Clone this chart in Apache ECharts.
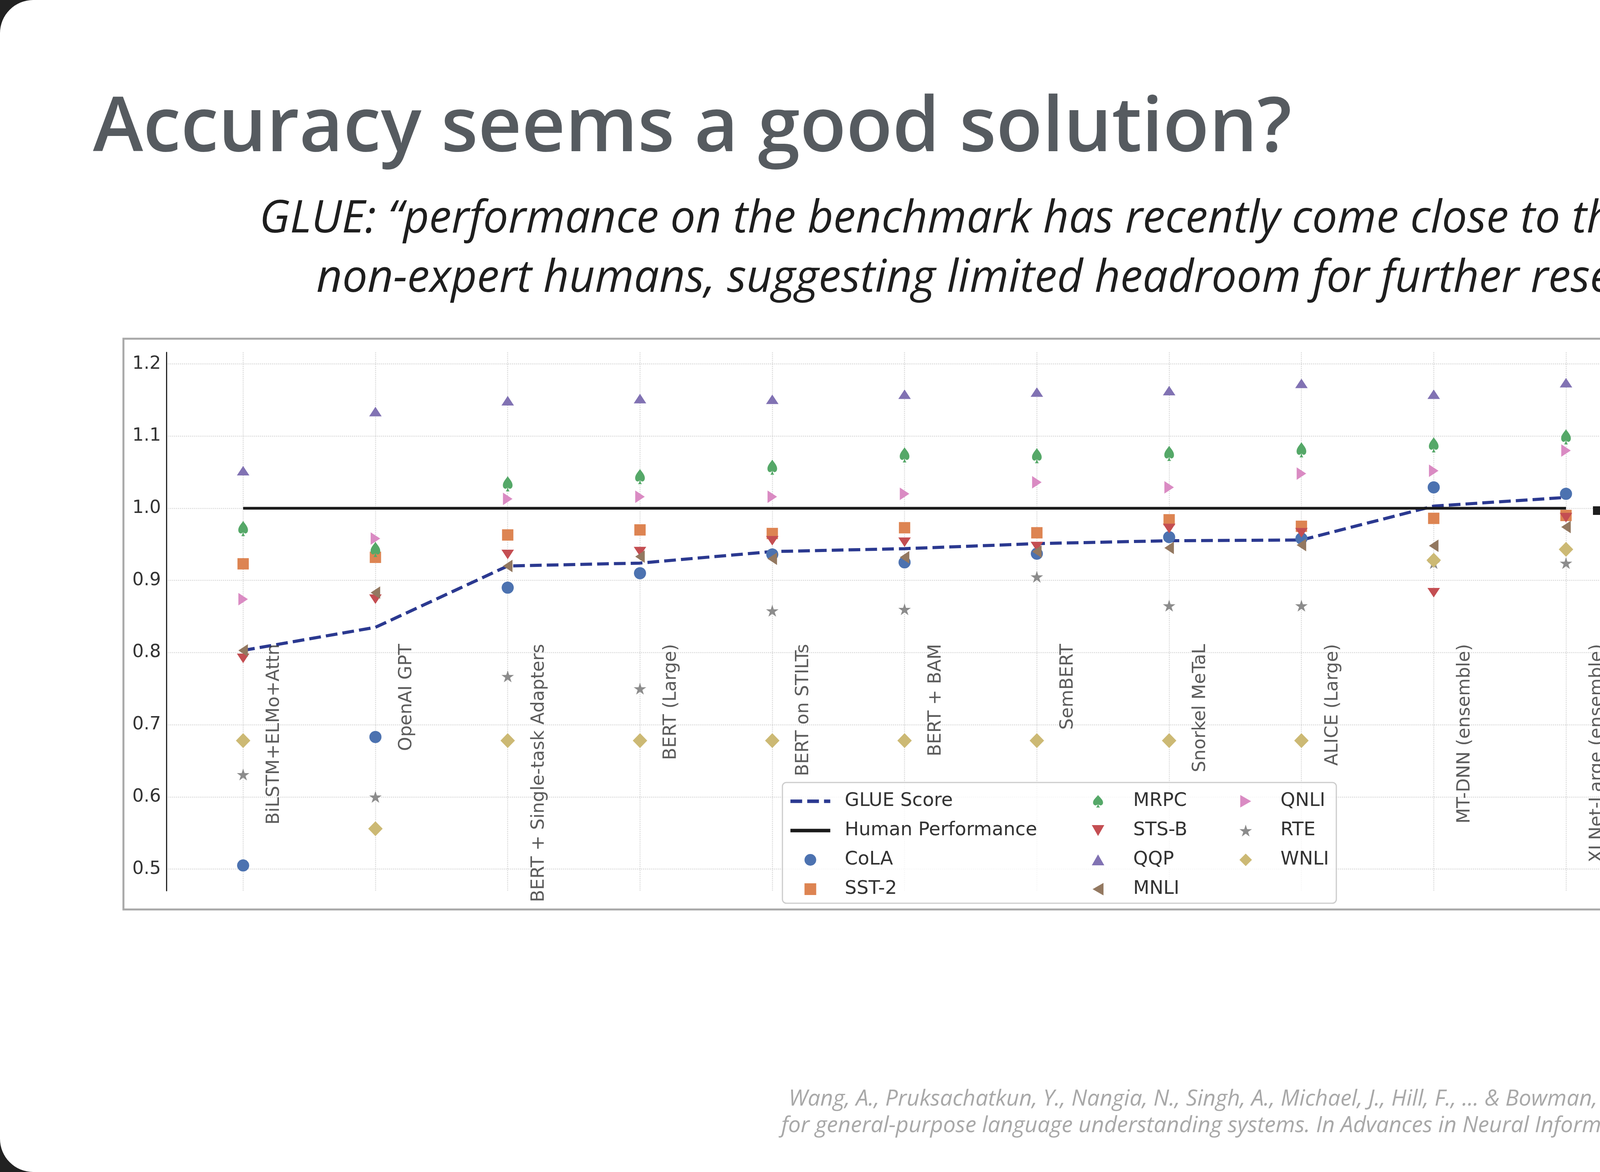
<!DOCTYPE html>
<html><head><meta charset="utf-8">
<script src="https://cdn.jsdelivr.net/npm/echarts@6/dist/echarts.min.js"></script>
<style>
html,body{margin:0;padding:0;background:#222;width:5334px;height:3000px;overflow:hidden}
#slide{position:absolute;left:0;top:0;width:5334px;height:3000px;background:#fff;border-radius:85px;overflow:hidden}
#chart{position:absolute;left:0;top:0;width:5334px;height:3000px}
</style></head><body><div id="slide"><div id="chart"></div></div>
<script>
// ---------------- data ----------------
const categories = ['BiLSTM+ELMo+Attn','OpenAI GPT','BERT + Single-task Adapters','BERT (Large)','BERT on STILTs','BERT + BAM','SemBERT','Snorkel MeTaL','ALICE (Large)','MT-DNN (ensemble)','XLNet-Large (ensemble)'];
const glueScore        = [0.803,0.835,0.920,0.924,0.940,0.944,0.951,0.955,0.956,1.003,1.015];
const humanPerformance = [1.0,1.0,1.0,1.0,1.0,1.0,1.0,1.0,1.0,1.0,1.0];
const cola = [0.505,0.683,0.890,0.910,0.936,0.925,0.937,0.960,0.958,1.029,1.020];
const sst2 = [0.923,0.932,0.963,0.970,0.965,0.973,0.966,0.984,0.975,0.986,0.990];
const mrpc = [0.972,0.943,1.034,1.044,1.057,1.074,1.073,1.076,1.081,1.088,1.099];
const stsb = [0.792,0.874,0.936,0.940,0.955,0.953,0.947,0.972,0.966,0.883,0.987];
const qqp  = [1.052,1.134,1.149,1.152,1.151,1.158,1.161,1.163,1.173,1.158,1.174];
const mnli = [0.803,0.883,0.920,0.933,0.930,0.932,0.940,0.945,0.949,0.948,0.974];
const qnli = [0.874,0.958,1.013,1.016,1.016,1.020,1.036,1.029,1.048,1.052,1.080];
const rte  = [0.631,0.600,0.767,0.750,0.858,0.860,0.905,0.865,0.865,0.924,0.924];
const wnli = [0.678,0.556,0.678,0.678,0.678,0.678,0.678,0.678,0.678,0.928,0.943];
const yTicks = [0.5,0.6,0.7,0.8,0.9,1.0,1.1,1.2];
const yTickLabels = ['0.5','0.6','0.7','0.8','0.9','1.0','1.1','1.2'];

// ---------------- helpers ----------------
const ctx = document.createElement('canvas').getContext('2d');
function fitSize(text, fontStyle, weight, family, targetW) {
  ctx.font = `${fontStyle} ${weight} 100px ${family}`;
  return 100 * targetW / ctx.measureText(text).width;
}
function midOff(fontStyle, weight, size, family) {
  ctx.font = `${fontStyle} ${weight} ${size}px ${family}`;
  ctx.textBaseline = 'middle';
  const m = ctx.measureText('H');
  ctx.textBaseline = 'alphabetic';
  return m.actualBoundingBoxDescent;
}
function textEl(text, x, baseline, fontStyle, weight, size, family, fill, align) {
  const off = midOff(fontStyle, weight, size, family);
  return {type:'text', x:x, y:baseline - off, z:10, silent:true,
    style:{text:text, fontStyle:fontStyle, fontWeight:weight, fontSize:size, fontFamily:family,
      fill:fill, align:align, textAlign:align, verticalAlign:'middle', textVerticalAlign:'middle'}};
}
const pts = arr => arr.map((v,i)=>[i,v]);

const MONO = 'DejaVu Sans';
const SYM = {
  square:'path://M0,0 L100,0 L100,100 L0,100 Z',
  down:  'path://M0,0 L100,0 L50,87 Z',
  up:    'path://M50,0 L100,87 L0,87 Z',
  left:  'path://M87,0 L87,100 L0,50 Z',
  right: 'path://M0,0 L0,100 L87,50 Z',
  star:  'path://M50,0 L61.2,34.5 L97.6,34.5 L68.2,55.9 L79.4,90.5 L50,69.1 L20.6,90.5 L31.8,55.9 L2.4,34.5 L38.8,34.5 Z',
  spade: 'path://M40,0 C52,18 80,36 80,60 C80,76 68,84 57,83 C51,82 46,78 43,73 C44,86 49,94 56,100 L24,100 C31,94 36,86 37,73 C34,78 29,82 23,83 C12,84 0,76 0,60 C0,36 28,18 40,0 Z'
};

function scatter(name, data, color, symbol, size) {
  return {name:name, type:'scatter', data:pts(data), symbol:symbol, symbolSize:size,
    symbolKeepAspect:true, itemStyle:{color:color, opacity:1}, z:3, silent:true};
}

const LABEL_ANCHOR = 0.812;
const TITLE_FONT = 'Open Sans';
const titleSize = fitSize('Accuracy seems a good solution?', 'normal', '600', TITLE_FONT, 3069);
const subLine1 = 'GLUE: \u201Cperformance on the benchmark has recently come close to the level of';
const subLine2 = 'non-expert humans, suggesting limited headroom for further research.\u201D';
const subSize = fitSize(subLine1, 'italic', '400', TITLE_FONT, 3906);
const citeLine1 = 'Wang, A., Pruksachatkun, Y., Nangia, N., Singh, A., Michael, J., Hill, F., ... & Bowman, S. (2019). Superglue: A stickier benchmark';
const citeLine2 = 'for general-purpose language understanding systems. In Advances in Neural Information Processing Systems (pp. 3266-3280).';
const citeSize = fitSize(citeLine2, 'italic', '400', TITLE_FONT, 3153);

const legendText = {fontFamily:MONO, fontSize:48, color:'#333', lineHeight:56};
const braceStyle = {fill:'none', stroke:'#5fa3dc', lineWidth:26, lineCap:'round', lineJoin:'round'};
function bez(x1,y1,c1x,c1y,c2x,c2y,x2,y2){
  return {type:'bezierCurve', z:10, silent:true,
    shape:{x1:x1,y1:y1,cpx1:c1x,cpy1:c1y,cpx2:c2x,cpy2:c2y,x2:x2,y2:y2}, style:braceStyle};
}

const chart = echarts.init(document.getElementById('chart'), null, {renderer:'canvas'});
chart.setOption({
  animation:false,
  backgroundColor:'transparent',
  grid:{left:426, top:902, width:3776, height:1378, containLabel:false},
  xAxis:{type:'value', min:-0.58, max:10.57,
    axisLine:{show:false, onZero:false}, axisLabel:{show:false},
    axisTick:{show:false, customValues:categories.map((c,i)=>i)},
    splitLine:{show:true, lineStyle:{color:'#d6d6d6', width:2.5, type:'dotted'}}},
  yAxis:{type:'value', min:0.47, max:1.216,
    axisLine:{show:true, onZero:false, lineStyle:{color:'#262626', width:3}},
    axisTick:{show:false, customValues:yTicks},
    axisLabel:{customValues:yTicks, fontFamily:MONO, fontSize:46, color:'#333', margin:14,
      formatter:v=>{const k=yTicks.findIndex(t=>Math.abs(t-v)<1e-6); return k>=0?yTickLabels[k]:'';}},
    splitLine:{show:true, lineStyle:{color:'#d6d6d6', width:2.5, type:'dotted'}}},
  legend:[
    {orient:'vertical', left:2019, top:2023, padding:0, itemGap:19, itemWidth:102, itemHeight:30, selectedMode:false,
      data:[
        {name:'GLUE Score', itemStyle:{opacity:0}, lineStyle:{width:9, type:[30,13], color:'#2b3990'}},
        {name:'Human Performance', itemStyle:{opacity:0}, lineStyle:{width:9, type:'solid', color:'#1a1a1a'}},
        'CoLA','SST-2'],
      textStyle:Object.assign({padding:[0,0,0,32]}, legendText)},
    {orient:'vertical', left:2795, top:2023, padding:0, itemGap:19, itemWidth:32, itemHeight:32, selectedMode:false,
      data:['MRPC','STS-B','QQP','MNLI'], textStyle:Object.assign({padding:[0,0,0,69]}, legendText)},
    {orient:'vertical', left:3173, top:2023, padding:0, itemGap:19, itemWidth:32, itemHeight:32, selectedMode:false,
      data:['QNLI','RTE','WNLI'], textStyle:Object.assign({padding:[0,0,0,68]}, legendText)}
  ],
  series:[
    {name:'GLUE Score', type:'line', data:pts(glueScore), symbol:'none', z:2, silent:true,
      lineStyle:{color:'#2b3990', width:8, type:[30,13]}, itemStyle:{color:'#2b3990'}},
    {name:'Human Performance', type:'line', data:pts(humanPerformance), symbol:'none', z:2, silent:true,
      lineStyle:{color:'#1a1a1a', width:7}, itemStyle:{color:'#1a1a1a'}},
    scatter('CoLA', cola, '#4C72B0', 'circle', 31),
    scatter('SST-2', sst2, '#DD8452', SYM.square, 29),
    scatter('MRPC', mrpc, '#55A868', SYM.spade, [31,39]),
    scatter('STS-B', stsb, '#C44E52', SYM.down, [32,28]),
    scatter('QQP', qqp, '#8172B3', SYM.up, [32,28]),
    scatter('MNLI', mnli, '#937860', SYM.left, [28,32]),
    scatter('QNLI', qnli, '#DA8BC3', SYM.right, [28,32]),
    scatter('RTE', rte, '#8C8C8C', SYM.star, 32),
    scatter('WNLI', wnli, '#CCB974', 'diamond', [37,38]),
    {name:'labels', type:'scatter', data:categories.map((c,i)=>[i, LABEL_ANCHOR]), symbolSize:1,
      itemStyle:{color:'rgba(0,0,0,0)'}, silent:true, z:3,
      label:{show:true, position:'inside', rotate:90, align:'right', verticalAlign:'middle', offset:[0,80],
        fontFamily:MONO, fontSize:46, color:'#333', formatter:p=>categories[p.dataIndex]}}
  ],
  graphic:[
    {type:'rect', z:0, silent:true, shape:{x:316, y:867, width:3908, height:1461},
      style:{fill:'none', stroke:'#a8a8a8', lineWidth:5}},
    {type:'rect', z:3, silent:true, shape:{x:2003, y:2003, width:1418, height:309, r:10},
      style:{fill:'rgba(255,255,255,0.8)', stroke:'#cccccc', lineWidth:3}},
    textEl('Accuracy seems a good solution?', 238, 387, 'normal', '600', titleSize, TITLE_FONT, '#565b60', 'left'),
    textEl(subLine1, 2617, 595, 'italic', '400', subSize, TITLE_FONT, '#1e1e1e', 'center'),
    textEl(subLine2, 2617, 747, 'italic', '400', subSize, TITLE_FONT, '#1e1e1e', 'center'),
    textEl(citeLine1, 5152, 2830, 'italic', '400', citeSize, TITLE_FONT, '#a8a8a8', 'right'),
    textEl(citeLine2, 5152, 2898, 'italic', '400', citeSize, TITLE_FONT, '#a8a8a8', 'right'),
    textEl('4', 5240, 2955, 'normal', 'normal', 60, TITLE_FONT, '#111', 'left'),
    textEl('Model wins!', 4327, 1137, 'italic', 'normal', 112, 'Noto Sans', '#5fa3dc', 'left'),
    textEl('Human', 4341, 1337, 'normal', 'normal', 112, 'Noto Sans', '#1a1a1a', 'left'),
    bez(4150,978, 4192,975, 4206,992, 4206,1030),
    {type:'line', z:10, silent:true, shape:{x1:4206,y1:1030,x2:4206,y2:1085}, style:braceStyle},
    bez(4206,1085, 4206,1105, 4224,1112, 4252,1113),
    bez(4252,1113, 4224,1114, 4206,1121, 4206,1141),
    {type:'line', z:10, silent:true, shape:{x1:4206,y1:1141,x2:4206,y2:1200}, style:braceStyle},
    bez(4206,1200, 4206,1236, 4192,1247, 4150,1245),
    {type:'line', z:10, silent:true, shape:{x1:4078,y1:1307,x2:4222,y2:1307},
      style:{stroke:'#1e1e1e', lineWidth:22, lineCap:'butt'}},
    {type:'polyline', z:10, silent:true, shape:{points:[[4175,1252],[4252,1305],[4175,1362]]},
      style:{fill:'none', stroke:'#1e1e1e', lineWidth:20, lineCap:'round', lineJoin:'round'}}
  ]
});
</script></body></html>
